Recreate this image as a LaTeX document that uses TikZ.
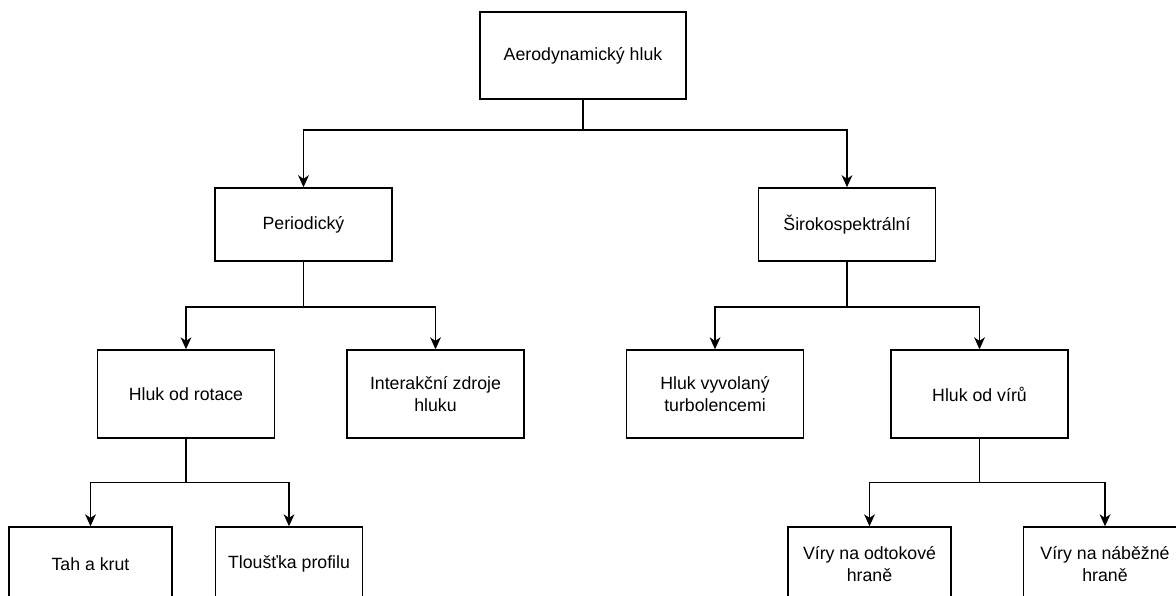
\documentclass[tikz,border=0pt]{standalone}
\usepackage{fontspec}
\setmainfont{Liberation Sans}
\usepackage{tikz}
\usetikzlibrary{arrows.meta,positioning}

\begin{document}
\begin{tikzpicture}[
  x=0.025cm, y=-0.025cm,
  topic/.style={draw, line width=1pt, align=center, inner sep=2pt,
                minimum width=4.42cm, minimum height=2.2cm,
                font=\fontsize{12.6}{15.4}\selectfont},
  leaf/.style={topic, minimum width=4.08cm, minimum height=1.85cm},
  link/.style={line width=1pt},
  arrow/.style={link, -{Stealth[length=0.3cm, width=0.27cm, inset=0.09cm]}}
]
  \useasboundingbox (0,0) rectangle (1176,595);
  \node[topic, minimum width=5.15cm, minimum height=2.18cm] (aero) at (583,55.5) {Aerodynamický hluk};
  \node[topic, minimum height=1.83cm] (per) at (303.5,224.5) {Periodický};
  \node[topic, minimum height=1.83cm] (sir) at (847,224.5) {Širokospektrální};
  \node[topic] (rot) at (186,394) {Hluk od rotace};
  \node[topic] (int) at (435.5,394) {Interakční zdroje\\hluku};
  \node[topic] (tur) at (715,394) {Hluk vyvolaný\\turbolencemi};
  \node[topic] (vir) at (979.5,394) {Hluk od vírů};
  \node[leaf] (tah) at (90.5,564) {Tah a krut};
  \node[leaf, minimum width=3.68cm] (tlo) at (289,564) {Tloušťka profilu};
  \node[leaf] (odt) at (869.5,564) {Víry na odtokové\\hraně};
  \node[leaf] (nab) at (1105,564) {Víry na náběžné\\hraně};
  % stems and junctions
  \draw[link] (aero.south) -- ++(0,30) coordinate (j1);
  \draw[link] (per.south) -- ++(0,45) coordinate (j2);
  \draw[link] (sir.south) -- ++(0,45) coordinate (j3);
  \draw[link] (rot.south) -- ++(0,44) coordinate (j4);
  \draw[link] (vir.south) -- ++(0,44) coordinate (j5);
  % branches
  \draw[arrow] (j1) -| (per.north);
  \draw[arrow] (j1) -| (sir.north);
  \draw[arrow] (j2) -| (rot.north);
  \draw[arrow] (j2) -| (int.north);
  \draw[arrow] (j3) -| (tur.north);
  \draw[arrow] (j3) -| (vir.north);
  \draw[arrow] (j4) -| (tah.north);
  \draw[arrow] (j4) -| (tlo.north);
  \draw[arrow] (j5) -| (odt.north);
  \draw[arrow] (j5) -| (nab.north);
\end{tikzpicture}
\end{document}
